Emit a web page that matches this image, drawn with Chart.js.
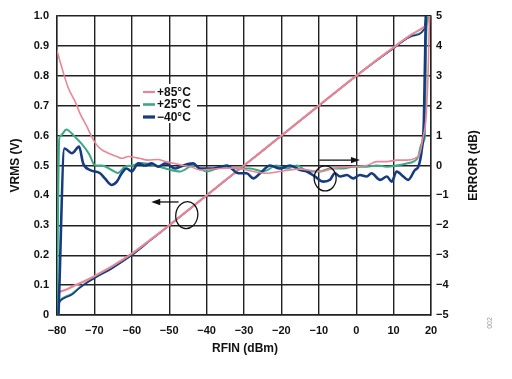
<!DOCTYPE html>
<html>
<head>
<meta charset="utf-8">
<script src="https://cdn.jsdelivr.net/npm/chart.js@4/dist/chart.umd.min.js"></script>
<style>
  html, body { margin: 0; padding: 0; background: #fff; }
</style>
</head>
<body>
<canvas id="chart" width="512" height="379"></canvas>
<script>
// tick labels
const xTickLabels = ['−80', '−70', '−60', '−50', '−40', '−30', '−20', '−10', '0', '10', '20'];
const vTickLabels = ['0', '0.1', '0.2', '0.3', '0.4', '0.5', '0.6', '0.7', '0.8', '0.9', '1.0'];
const errTickLabels = ['−5', '−4', '−3', '−2', '−1', '0', '1', '2', '3', '4', '5'];
const seriesNames = ['+85°C', '+25°C', '−40°C'];

// VRMS (V) vs RFIN (dBm)
const vrms85 = [[-80, 0.075], [-77, 0.088], [-75, 0.1], [-72, 0.117], [-70, 0.13], [-65, 0.165], [-60, 0.205],
  [-55, 0.252], [-50, 0.3], [-45, 0.35], [-40, 0.4], [-30, 0.5], [-20, 0.6], [-10, 0.7], [0, 0.8],
  [10, 0.895], [15, 0.94], [18, 0.962], [19, 0.975], [19.4, 1.0]];
const vrms25 = [[-80, 0.0], [-79.6, 0.035], [-79, 0.052], [-78, 0.06], [-76, 0.072], [-74, 0.092], [-72, 0.11],
  [-70, 0.125], [-65, 0.16], [-60, 0.2], [-55, 0.25], [-50, 0.3], [-40, 0.4], [-30, 0.5], [-20, 0.6],
  [-10, 0.7], [0, 0.8], [10, 0.893], [15, 0.935], [18.2, 0.958], [18.8, 0.99], [19.1, 1.0]];
const vrms40 = [[-80, 0.0], [-79.7, 0.03], [-79, 0.048], [-78, 0.057], [-76, 0.068], [-74, 0.09], [-72, 0.108],
  [-70, 0.123], [-65, 0.158], [-60, 0.2], [-55, 0.25], [-50, 0.3], [-40, 0.4], [-30, 0.5], [-20, 0.6],
  [-10, 0.7], [0, 0.8], [10, 0.892], [15, 0.933], [18.2, 0.956], [18.6, 0.99], [18.8, 1.0]];

// ERROR (dB) vs RFIN (dBm)
const err85 = [[-80, 3.85], [-79, 3.4], [-77, 2.6], [-75, 2.1], [-73.9, 1.75], [-72, 1.3], [-70.7, 0.96],
  [-69.4, 0.69], [-68, 0.52], [-66.4, 0.42], [-64, 0.3], [-62.7, 0.24], [-61, 0.3], [-58, 0.24],
  [-55.7, 0.18], [-53, 0.2], [-51, 0.13], [-48, 0.05], [-46.3, 0], [-44, -0.05], [-41.8, -0.15],
  [-36.4, -0.1], [-32, -0.08], [-29.3, -0.15], [-23.9, -0.26], [-20.4, -0.2], [-15, -0.12],
  [-9.7, -0.2], [-6.1, -0.1], [-1.7, -0.04], [2.8, 0], [5.5, 0.13], [8.2, 0.13], [10.8, 0.18],
  [13.5, 0.18], [15.7, 0.24], [17, 0.4], [17.9, 0.96], [18.6, 1.5], [19.2, 3], [19.6, 5]];
const err25 = [[-80, -5], [-79.4, 0.9], [-79, 1.0], [-77.5, 1.2], [-77, 1.18], [-75.5, 1.0], [-73.4, 0.72],
  [-71.4, 0.38], [-69.8, 0], [-68, 0], [-65.4, -0.15], [-63.7, -0.25], [-61.8, -0.04], [-60, 0],
  [-57.4, 0.08], [-53.8, 0], [-51, -0.1], [-47.1, -0.2], [-43.6, 0], [-40, -0.2], [-35.5, -0.04],
  [-32.9, -0.1], [-28.4, -0.1], [-24.8, -0.2], [-21.3, 0], [-18.6, -0.1], [-15.9, 0], [-12.8, -0.2],
  [-9.7, -0.2], [-7, -0.1], [-3.4, -0.1], [-0.8, -0.04], [2.8, -0.04], [5.5, 0], [8.2, -0.04],
  [10.8, 0], [13.5, 0.07], [15.3, 0.13], [16.6, 0.3], [17.5, 0.74], [18.3, 0.9], [18.8, 4.6], [19.2, 5]];
const err40 = [[-79.6, -5], [-78, 0.57], [-76, 0.41], [-74.1, 0.63], [-73, 0.07], [-71.2, -0.15],
  [-68.5, -0.26], [-67.2, -0.43], [-65.4, -0.65], [-64, -0.54], [-62.7, -0.26], [-61.4, -0.1],
  [-60, -0.2], [-58.3, 0.07], [-56.5, 0], [-54.7, 0.07], [-52.9, -0.04], [-51, 0.07], [-48.4, -0.1],
  [-47.1, -0.04], [-43.6, 0.07], [-41.8, -0.1], [-38.2, -0.1], [-34.6, 0], [-31.5, -0.26],
  [-29.3, -0.26], [-27.5, -0.43], [-25.7, -0.26], [-23, 0], [-20.4, -0.1], [-17.7, 0], [-15, -0.15],
  [-13.2, -0.2], [-11, -0.37], [-8.8, -0.54], [-7, -0.48], [-5.7, -0.26], [-4.3, -0.37], [-2.5, -0.32],
  [-0.8, -0.43], [1, -0.32], [2.8, -0.37], [4.1, -0.26], [6.4, -0.48], [8.2, -0.37], [9.5, -0.54],
  [10.8, -0.2], [12.6, -0.37], [13.9, -0.48], [15.7, -0.15], [16.6, -0.04], [17.5, 0.5], [18.1, 1.5],
  [18.6, 5]];

const colors = ['#ea8595', '#3aa985', '#173b80'];
const errWidths = [1.6, 2, 2.6];
const vrmsWidths = [2.2, 1.6, 1.6];

const toPts = arr => arr.map(p => ({ x: p[0], y: p[1] }));

function lineSet(label, pts, i, axis, order, w) {
  return {
    label: label,
    data: toPts(pts),
    yAxisID: axis,
    borderColor: colors[i],
    borderWidth: w,
    pointRadius: 0,
    cubicInterpolationMode: 'monotone',
    fill: false,
    order: order
  };
}

const font = { family: 'Liberation Sans, Arial, sans-serif', size: 11, weight: 'bold' };
const gridColor = '#222';

const extras = {
  id: 'extras',
  afterDatasetsDraw(chart) {
    const ctx = chart.ctx;
    const xs = chart.scales.x, yl = chart.scales.y, yr = chart.scales.y2;
    ctx.save();

    // legend box inside the plot
    ctx.fillStyle = '#fff';
    ctx.fillRect(140, 84, 57, 39);
    ctx.font = 'bold 12px Liberation Sans, Arial, sans-serif';
    ctx.textBaseline = 'middle';
    seriesNames.forEach((n, i) => {
      const y = 92 + i * 12.5;
      ctx.strokeStyle = colors[i];
      ctx.lineWidth = errWidths[i] + 0.6;
      ctx.beginPath();
      ctx.moveTo(143, y);
      ctx.lineTo(155, y);
      ctx.stroke();
      ctx.fillStyle = '#111';
      ctx.fillText(n, 157, y + 0.5);
    });

    // ellipses with arrows
    ctx.strokeStyle = '#111';
    ctx.fillStyle = '#111';
    ctx.lineWidth = 1.3;
    const e1x = xs.getPixelForValue(-45.3), e1y = yl.getPixelForValue(0.334);
    ctx.beginPath();
    ctx.ellipse(e1x, e1y, 11, 13.5, 0.15, 0, Math.PI * 2);
    ctx.stroke();
    const a1y = yl.getPixelForValue(0.378);
    const a1s = xs.getPixelForValue(-47.5), a1e = xs.getPixelForValue(-54.8);
    ctx.beginPath();
    ctx.moveTo(a1s, a1y);
    ctx.lineTo(a1e + 7, a1y);
    ctx.stroke();
    ctx.beginPath();
    ctx.moveTo(a1e, a1y);
    ctx.lineTo(a1e + 9, a1y - 3.2);
    ctx.lineTo(a1e + 9, a1y + 3.2);
    ctx.closePath();
    ctx.fill();

    const e2x = xs.getPixelForValue(-8.3), e2y = yr.getPixelForValue(-0.43);
    ctx.beginPath();
    ctx.ellipse(e2x, e2y, 11, 12.5, 0, 0, Math.PI * 2);
    ctx.stroke();
    const a2y = yr.getPixelForValue(0.18);
    const a2s = xs.getPixelForValue(-9.9), a2e = xs.getPixelForValue(1.0);
    ctx.beginPath();
    ctx.moveTo(a2s, a2y);
    ctx.lineTo(a2e - 7, a2y);
    ctx.stroke();
    ctx.beginPath();
    ctx.moveTo(a2e, a2y);
    ctx.lineTo(a2e - 9, a2y - 3.2);
    ctx.lineTo(a2e - 9, a2y + 3.2);
    ctx.closePath();
    ctx.fill();

    ctx.restore();
  },
  afterDraw(chart) {
    const ctx = chart.ctx;
    const area = chart.chartArea;
    const midY = (area.top + area.bottom) / 2;
    ctx.save();
    ctx.fillStyle = '#111';
    ctx.font = 'bold 12px Liberation Sans, Arial, sans-serif';
    ctx.textAlign = 'center';
    ctx.textBaseline = 'middle';
    ctx.fillText('RFIN (dBm)', 245, 349);

    ctx.translate(16, midY);
    ctx.rotate(-Math.PI / 2);
    ctx.fillText('VRMS (V)', 0, 0);
    ctx.restore();

    ctx.save();
    ctx.fillStyle = '#111';
    ctx.font = 'bold 12px Liberation Sans, Arial, sans-serif';
    ctx.textAlign = 'center';
    ctx.textBaseline = 'middle';
    ctx.translate(474, midY);
    ctx.rotate(-Math.PI / 2);
    ctx.fillText('ERROR (dB)', 0, 0);
    ctx.restore();

    ctx.save();
    ctx.fillStyle = '#9a9a9a';
    ctx.font = '7px Liberation Sans, Arial, sans-serif';
    ctx.textAlign = 'center';
    ctx.textBaseline = 'middle';
    ctx.translate(490, 323);
    ctx.rotate(-Math.PI / 2);
    ctx.fillText('002', 0, 0);
    ctx.restore();
  }
};

const config = {
  type: 'line',
  data: {
    datasets: [
      lineSet(seriesNames[0], err85, 0, 'y2', 1, errWidths[0]),
      lineSet(seriesNames[1], err25, 1, 'y2', 3, errWidths[1]),
      lineSet(seriesNames[2], err40, 2, 'y2', 2, errWidths[2]),
      lineSet('vrms ' + seriesNames[0], vrms85, 0, 'y', 4, vrmsWidths[0]),
      lineSet('vrms ' + seriesNames[1], vrms25, 1, 'y', 6, vrmsWidths[1]),
      lineSet('vrms ' + seriesNames[2], vrms40, 2, 'y', 5, vrmsWidths[2])
    ]
  },
  options: {
    responsive: false,
    animation: false,
    layout: { padding: { top: 16, left: 0, right: 0, bottom: 0 } },
    plugins: {
      legend: { display: false },
      tooltip: { enabled: false }
    },
    scales: {
      x: {
        type: 'linear',
        min: -80,
        max: 20,
        ticks: {
          stepSize: 10,
          color: '#111',
          font: font,
          padding: 9,
          maxRotation: 0,
          callback: (v, i) => xTickLabels[i]
        },
        grid: { color: gridColor, lineWidth: 1.4, drawTicks: false },
        border: { color: gridColor, width: 1.4 },
        afterFit: s => { s.height = 64; }
      },
      y: {
        position: 'left',
        min: 0,
        max: 1,
        ticks: {
          stepSize: 0.1,
          color: '#111',
          font: font,
          padding: 8,
          callback: (v, i) => vTickLabels[i]
        },
        grid: { color: gridColor, lineWidth: 1.4, drawTicks: false },
        border: { color: gridColor, width: 1.4 },
        afterFit: s => { s.width = 57; }
      },
      y2: {
        position: 'right',
        min: -5,
        max: 5,
        ticks: {
          stepSize: 1,
          color: '#111',
          font: font,
          padding: 5,
          callback: (v, i) => errTickLabels[i]
        },
        grid: { display: false, drawTicks: false },
        border: { color: gridColor, width: 1.4 },
        afterFit: s => { s.width = 81; }
      }
    }
  },
  plugins: [extras]
};

new Chart(document.getElementById('chart'), config);
</script>
</body>
</html>
